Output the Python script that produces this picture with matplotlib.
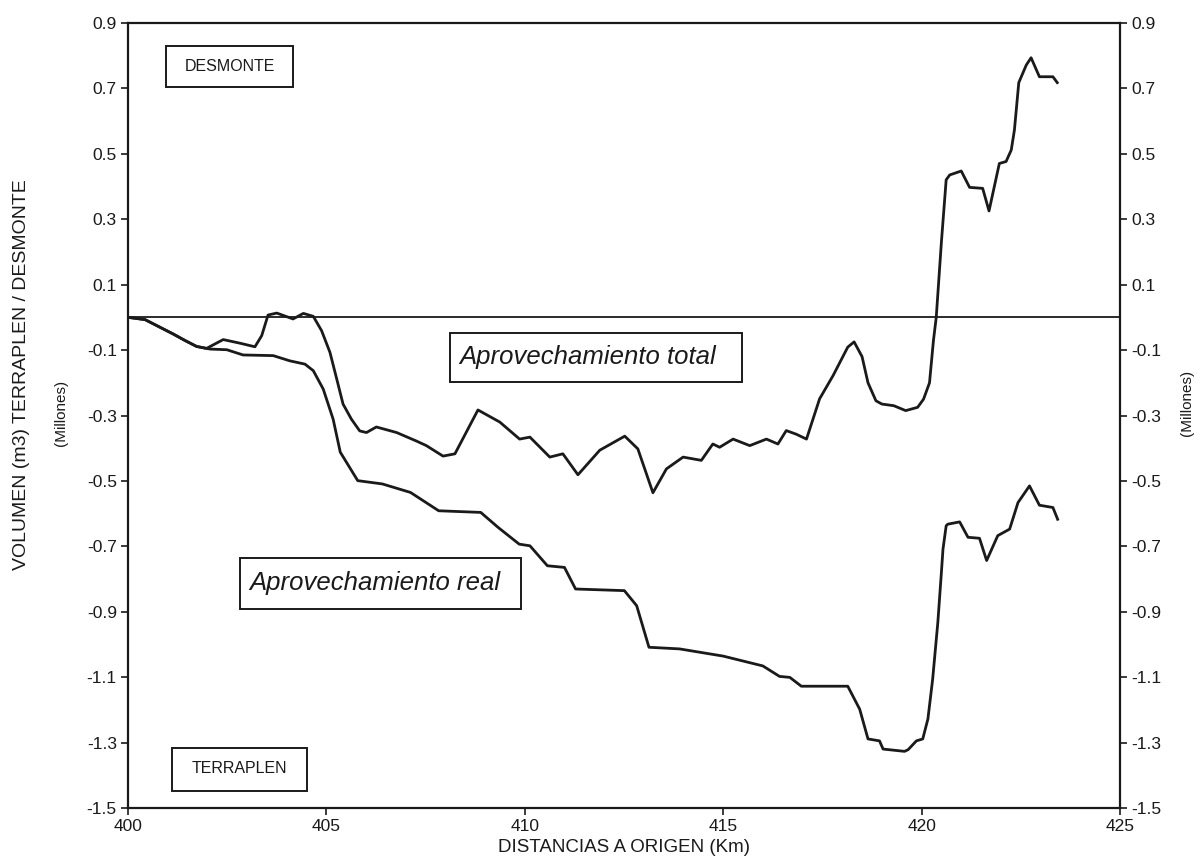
import matplotlib
matplotlib.use("Agg")
import matplotlib.pyplot as plt
from matplotlib.patches import Rectangle

plt.rcParams['font.family'] = ['Liberation Sans', 'DejaVu Sans']

# values (km, millions of m3)
km_total = [400.0, 400.43, 401.14, 401.44, 401.73, 401.98, 402.40, 402.82, 403.20, 403.37,
            403.53, 403.75, 404.16, 404.42, 404.67, 404.88, 405.09, 405.26, 405.42, 405.63,
            405.84, 406.01, 406.26, 406.77, 407.27, 407.52, 407.94, 408.24, 408.82, 409.37,
            409.87, 410.13, 410.63, 410.96, 411.34, 411.89, 412.52, 412.85, 413.23, 413.57,
            413.99, 414.45, 414.74, 414.91, 415.25, 415.67, 416.09, 416.38, 416.59, 416.84,
            417.10, 417.43, 417.77, 418.14, 418.30, 418.50, 418.65, 418.85, 419.0, 419.3,
            419.6, 419.9, 420.05, 420.2, 420.3, 420.37, 420.50, 420.62, 420.71, 421.00,
            421.21, 421.54, 421.70, 421.96, 422.13, 422.26, 422.34, 422.45, 422.64, 422.76,
            422.97, 423.31, 423.42]
vol_total = [0.0, -0.007, -0.051, -0.071, -0.089, -0.095, -0.068, -0.079, -0.090, -0.056,
             0.007, 0.013, -0.005, 0.012, 0.003, -0.041, -0.107, -0.188, -0.265, -0.311,
             -0.347, -0.352, -0.335, -0.352, -0.378, -0.392, -0.424, -0.417, -0.283, -0.320,
             -0.372, -0.366, -0.427, -0.417, -0.481, -0.406, -0.363, -0.402, -0.536, -0.463,
             -0.427, -0.437, -0.387, -0.397, -0.372, -0.392, -0.372, -0.387, -0.346, -0.357,
             -0.372, -0.249, -0.178, -0.091, -0.075, -0.12, -0.20, -0.255, -0.265, -0.27,
             -0.285, -0.275, -0.25, -0.20, -0.07, 0.0, 0.23, 0.42, 0.435, 0.447,
             0.397, 0.394, 0.325, 0.47, 0.476, 0.511, 0.572, 0.717, 0.771, 0.793,
             0.735, 0.735, 0.717]

km_real = [400.0, 400.43, 401.14, 401.44, 401.73, 401.98, 402.07, 402.49, 402.90, 403.66,
           404.08, 404.46, 404.67, 404.92, 405.17, 405.35, 405.79, 406.41, 407.12, 407.83,
           408.89, 409.33, 409.86, 410.13, 410.57, 411.00, 411.28, 412.51, 412.82, 413.13,
           413.9, 414.5, 415.0, 415.5, 416.0, 416.42, 416.68, 416.97, 418.14, 418.44,
           418.65, 418.94, 419.03, 419.57, 419.66, 419.87, 420.03, 420.16, 420.28, 420.41,
           420.50, 420.54, 420.62, 420.66, 420.96, 421.17, 421.46, 421.64, 421.92, 422.22,
           422.43, 422.72, 422.97, 423.31, 423.43]
vol_real = [0.0, -0.007, -0.051, -0.071, -0.089, -0.095, -0.097, -0.099, -0.115, -0.117,
            -0.133, -0.143, -0.163, -0.219, -0.311, -0.412, -0.499, -0.509, -0.535, -0.591,
            -0.596, -0.642, -0.693, -0.698, -0.759, -0.764, -0.830, -0.835, -0.881, -1.008,
            -1.013, -1.025, -1.035, -1.05, -1.065, -1.097, -1.10, -1.127, -1.127, -1.197,
            -1.288, -1.294, -1.319, -1.326, -1.321, -1.294, -1.288, -1.227, -1.105, -0.932,
            -0.779, -0.708, -0.637, -0.632, -0.625, -0.672, -0.675, -0.743, -0.667, -0.647,
            -0.566, -0.515, -0.574, -0.581, -0.617]

x_ticks = [400, 405, 410, 415, 420, 425]
y_ticks = [0.9, 0.7, 0.5, 0.3, 0.1, -0.1, -0.3, -0.5, -0.7, -0.9, -1.1, -1.3, -1.5]

ink = '#1a1a1a'

fig = plt.figure(figsize=(12.04, 8.61), dpi=100)
ax = fig.add_axes([0.1063, 0.0612, 0.8239, 0.9124])

ax.plot(km_total, vol_total, color=ink, lw=2.0)
ax.plot(km_real, vol_real, color=ink, lw=2.0)
ax.axhline(0, color=ink, lw=1.3)

ax.set_xlim(400, 425)
ax.set_ylim(-1.5, 0.9)
ax.set_xticks(x_ticks)
ax.set_yticks(y_ticks)
ax.set_yticklabels([f"{v:.1f}" for v in y_ticks])
ax.tick_params(axis='both', direction='out', length=5, width=1.2, colors=ink,
               labelsize=12.5, pad=3)
ax.tick_params(axis='y', right=True, labelright=True)
for s in ax.spines.values():
    s.set_linewidth(1.6)
    s.set_color(ink)

ax.set_xlabel("DISTANCIAS A ORIGEN (Km)", fontsize=13.5, color=ink, labelpad=3)
fig.text(0.018, 0.565, "VOLUMEN (m3) TERRAPLEN / DESMONTE", rotation=90,
         fontsize=14, color=ink, ha='center', va='center')
fig.text(0.051, 0.52, "(Millones)", rotation=90, fontsize=11, color=ink,
         ha='center', va='center')
fig.text(0.986, 0.532, "(Millones)", rotation=90, fontsize=11, color=ink,
         ha='center', va='center')

# framed labels
boxes = [
    (400.96, 0.704, 3.20, 0.125, "DESMONTE", 402.56, 0.766, 'center', 'normal', 11.5),
    (401.10, -1.446, 3.41, 0.131, "TERRAPLEN", 402.80, -1.378, 'center', 'normal', 11.5),
    (408.11, -0.197, 7.36, 0.150, "Aprovechamiento total", 408.36, -0.121, 'left', 'italic', 18.5),
    (402.83, -0.891, 7.07, 0.157, "Aprovechamiento real", 403.05, -0.811, 'left', 'italic', 18.5),
]
for x0, y0, w, h, label, tx, ty, ha, style, size in boxes:
    ax.add_patch(Rectangle((x0, y0), w, h, fill=False, ec=ink, lw=1.4, zorder=3))
    ax.text(tx, ty, label, ha=ha, va='center', fontsize=size, style=style,
            color=ink, zorder=4)

fig.savefig("out.png", dpi=100, facecolor='white')
